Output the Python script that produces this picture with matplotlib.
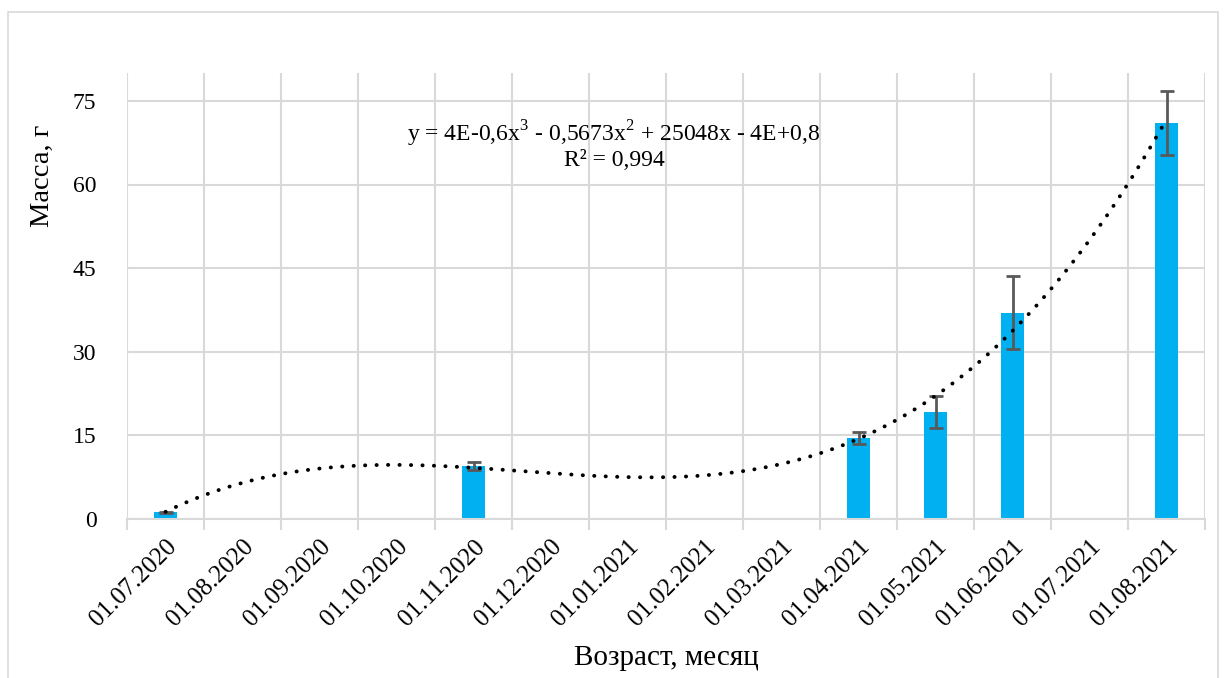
import numpy as np
import matplotlib
matplotlib.use("Agg")
import matplotlib.pyplot as plt
from matplotlib.patches import Rectangle

categories = ["01.07.2020", "01.08.2020", "01.09.2020", "01.10.2020", "01.11.2020",
              "01.12.2020", "01.01.2021", "01.02.2021", "01.03.2021", "01.04.2021",
              "01.05.2021", "01.06.2021", "01.07.2021", "01.08.2021"]
mass = [1.2, np.nan, np.nan, np.nan, 9.5, np.nan, np.nan, np.nan, np.nan, 14.5,
        19.2, 37.0, np.nan, 71.0]
err = [0.1, np.nan, np.nan, np.nan, 0.8, np.nan, np.nan, np.nan, np.nan, 1.1,
       2.9, 6.5, np.nan, 5.7]
yticks = [0, 15, 30, 45, 60, 75]
eq_text = "y = 4E-0,6x$^3$ - 0,5673x$^2$ + 25048x - 4E+0,8\nR² = 0,994"

plt.rcParams['font.family'] = ['Liberation Serif', 'DejaVu Serif']
plt.rcParams['mathtext.fontset'] = 'custom'
plt.rcParams['mathtext.rm'] = 'Liberation Serif'

fig = plt.figure(figsize=(12.28, 6.78), dpi=100)
fig.patches.append(Rectangle((8/1228, -0.05), (1218-8)/1228, 1.05 - 12/678,
                             transform=fig.transFigure, fill=False,
                             edgecolor='#d9d9d9', linewidth=1.2))
ax = fig.add_axes([127/1228, 1-519/678, (1205-127)/1228, (519-73)/678])

x = np.arange(len(categories))
m = np.array(mass, dtype=float)
e = np.array(err, dtype=float)
valid = ~np.isnan(m)

ax.bar(x[valid], m[valid], width=0.31, color='#00b0f0', zorder=2)
ev = valid & (e > 0)
ax.errorbar(x[ev], m[ev], yerr=e[ev], fmt='none', ecolor='#595959',
            elinewidth=2, capsize=5, capthick=2, zorder=3)

# cubic trendline from data
coef = np.polyfit(x[valid], m[valid], 3)
xs = np.linspace(x[valid].min(), x[valid].max(), 400)
ax.plot(xs, np.polyval(coef, xs), color='black', linewidth=2.8,
        linestyle=(0, (0.05, 2.9)), dash_capstyle='round', zorder=4)

ax.set_xlim(-0.5, len(categories) - 0.5)
ax.set_ylim(0, 80)
ax.set_yticks(yticks)
ax.set_yticklabels([str(v) for v in yticks], fontsize=17)
ax.set_xticks(x)
ax.set_xticklabels(categories, rotation=45, ha='right', rotation_mode='anchor',
                   fontsize=18)
ax.tick_params(axis='x', length=0, pad=12)
ax.tick_params(axis='y', length=0, pad=22)
ax.set_xticks(np.arange(len(categories) + 1) - 0.5, minor=True)
ax.tick_params(axis='x', which='minor', length=8, color='#d9d9d9', width=1.5)
ax.grid(True, which='minor', axis='x', color='#d9d9d9', linewidth=1.5, zorder=0)
ax.grid(True, which='major', axis='y', color='#d9d9d9', linewidth=1.5, zorder=0)
ax.set_axisbelow(True)
for s in ['top', 'right', 'left']:
    ax.spines[s].set_visible(False)
ax.spines['bottom'].set_color('#d9d9d9')
ax.spines['bottom'].set_linewidth(1.5)

ax.set_ylabel("Масса, г", fontsize=20.5, va='center', ha='center')
ax.yaxis.set_label_coords((42 - 127) / 1078, (519 - 176) / 446)
ax.set_xlabel("Возраст, месяц", fontsize=21, va='center', ha='center')
ax.xaxis.set_label_coords(0.5, -(658 - 519) / 446)

ax.text((614 - 127) / 1078, (519 - 145) / 446, eq_text,
        transform=ax.transAxes, ha='center', va='center', fontsize=17,
        linespacing=1.05)

fig.savefig("out.png", dpi=100)
